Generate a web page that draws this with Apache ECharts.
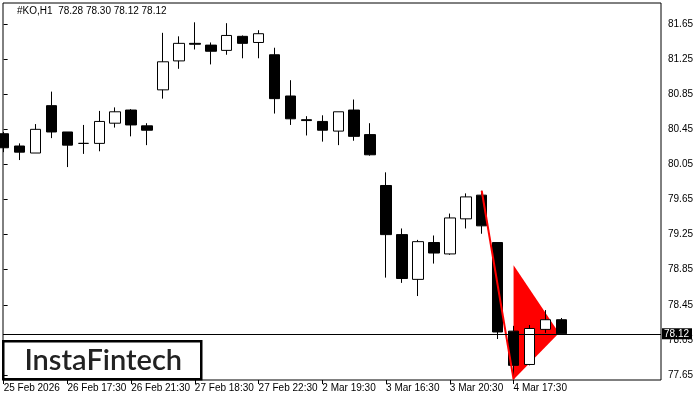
<!DOCTYPE html>
<html><head><meta charset="utf-8">
<script src="https://cdn.jsdelivr.net/npm/echarts@6/dist/echarts.min.js"></script>
<style>html,body{margin:0;padding:0;background:#fff}#c{width:700px;height:400px}</style>
</head><body><div id="c"></div>
<script>
const categories = [
  '25 Feb 20:30','25 Feb 21:30','25 Feb 22:30','26 Feb 16:30','26 Feb 17:30','26 Feb 18:30','26 Feb 19:30','26 Feb 20:30','26 Feb 21:30','26 Feb 22:30',
  '27 Feb 16:30','27 Feb 17:30','27 Feb 18:30','27 Feb 19:30','27 Feb 20:30','27 Feb 21:30','27 Feb 22:30',
  '2 Mar 16:30','2 Mar 17:30','2 Mar 18:30','2 Mar 19:30','2 Mar 20:30','2 Mar 21:30','2 Mar 22:30',
  '3 Mar 16:30','3 Mar 17:30','3 Mar 18:30','3 Mar 19:30','3 Mar 20:30','3 Mar 21:30','3 Mar 22:30',
  '4 Mar 16:30','4 Mar 17:30','4 Mar 18:30','4 Mar 19:30','4 Mar 20:30'
];
const openV  = [80.40,80.26,80.18,80.72,80.42,80.29,80.29,80.52,80.67,80.49, 80.90,81.23,81.43,81.41,81.35,81.51,81.44, 81.30,80.83,80.56,80.54,80.43,80.67,80.39, 79.81,79.25,78.74,79.16,79.03,79.43,79.70, 79.16,78.15,77.77,78.17,78.28];
const closeV = [80.24,80.19,80.45,80.42,80.27,80.29,80.54,80.65,80.50,80.44, 81.22,81.43,81.42,81.34,81.52,81.43,81.54, 80.80,80.57,80.55,80.44,80.65,80.37,80.16, 79.25,78.75,79.17,79.04,79.44,79.68,79.35, 78.14,77.76,78.18,78.28,78.12];
const lowV   = [80.19,80.10,80.18,80.35,80.02,80.17,80.20,80.47,80.37,80.27, 80.80,81.14,81.36,81.19,81.30,81.26,81.26, 80.63,80.50,80.38,80.31,80.27,80.32,80.15, 78.76,78.70,78.55,78.92,79.02,79.32,79.26, 78.06,77.60,77.76,78.13,78.12];
const highV  = [80.42,80.29,80.51,80.88,80.42,80.50,80.66,80.70,80.68,80.52, 81.55,81.51,81.67,81.44,81.66,81.52,81.58, 81.38,81.01,80.60,80.61,80.65,80.79,80.52, 79.96,79.32,79.19,79.24,79.49,79.72,79.75, 79.16,78.21,78.22,78.39,78.30];
const tickIdx = [0,4,8,12,16,20,24,28,32];
const tickLabels = ['25 Feb 2026','26 Feb 17:30','26 Feb 21:30','27 Feb 18:30','27 Feb 22:30','2 Mar 19:30','3 Mar 16:30','3 Mar 20:30','4 Mar 17:30'];
const yTicks = [77.65,78.05,78.45,78.85,79.25,79.65,80.05,80.45,80.85,81.25,81.65];
const lastPrice = 78.12;
const titleText = '#KO,H1  78.28 78.30 78.12 78.12';
const poleX = [30, 32], poleY = [79.75, 77.60];
const pennantX = [32, 32, 34.85], pennantY = [78.90, 77.60, 78.13];

const chart = echarts.init(document.getElementById('c'), null, {renderer:'canvas'});
const FONT = 'Liberation Sans';
chart.setOption({
  animation: false,
  backgroundColor: '#fff',
  title: {text: titleText, left: 17, top: 6, padding: 0,
    textStyle: {fontSize: 10, fontWeight: 'normal', color: '#000', fontFamily: FONT}},
  grid: {left: 3, top: 3, right: 39, bottom: 20, show: true, borderColor: '#000', borderWidth: 1, backgroundColor: '#fff'},
  xAxis: {
    type: 'value', min: -0.04, max: 41.25,
    axisLine: {show: false}, splitLine: {show: false},
    axisTick: {show: true, length: 4, customValues: tickIdx, lineStyle: {color: '#000'}},
    axisLabel: {customValues: tickIdx, align: 'left', margin: 3, fontSize: 10, color: '#000', fontFamily: FONT,
      formatter: v => tickLabels[tickIdx.indexOf(Math.round(v))] || ''}
  },
  yAxis: {
    type: 'value', position: 'right', min: 77.593, max: 81.89, scale: true,
    axisLine: {show: false}, splitLine: {show: false},
    axisTick: {show: true, length: 4, customValues: yTicks, lineStyle: {color: '#000'}},
    axisLabel: {customValues: yTicks, margin: 7, fontSize: 10, color: '#000', fontFamily: FONT,
      formatter: v => v.toFixed(2)}
  },
  series: [
    {
      type: 'custom', z: 1, silent: true,
      data: pennantX.map((x, i) => [x, pennantY[i]]),
      renderItem: (params, api) => {
        if (params.dataIndex !== 0) return null;
        const pts = pennantX.map((x, i) => api.coord([x, pennantY[i]]));
        return {type: 'polygon', shape: {points: pts}, style: {fill: '#ff0000'}};
      }
    },
    {
      type: 'candlestick', z: 2, silent: true, barWidth: 11,
      data: categories.map((c, i) => [i, openV[i], closeV[i], lowV[i], highV[i]]),
      encode: {x: 0, y: [1, 2, 3, 4]},
      itemStyle: {color: '#fff', color0: '#000', borderColor: '#000', borderColor0: '#000', borderWidth: 1},
      markLine: {
        silent: true, symbol: ['none', 'none'], animation: false,
        lineStyle: {color: '#000', width: 1, type: 'solid'},
        label: {show: true, position: 'end', distance: 1, formatter: () => lastPrice.toFixed(2),
          backgroundColor: '#000', color: '#fff', padding: [1, 3, 0, 2], fontSize: 10, fontFamily: FONT},
        emphasis: {disabled: true},
        data: [{yAxis: lastPrice}]
      }
    },
    {
      type: 'custom', z: 3, silent: true,
      data: poleX.map((x, i) => [x, poleY[i]]),
      renderItem: (params, api) => {
        if (params.dataIndex !== 0) return null;
        const a = api.coord([poleX[0], poleY[0]]), b = api.coord([poleX[1], poleY[1]]);
        return {type: 'line', shape: {x1: a[0], y1: a[1], x2: b[0], y2: b[1]}, style: {stroke: '#ff0000', lineWidth: 2}};
      }
    }
  ],
  graphic: [{
    type: 'group', left: 2, top: 340, z: 100,
    children: [
      {type: 'rect', shape: {x: 0, y: 0, width: 198, height: 38}, style: {fill: '#fff', stroke: '#000', lineWidth: 2.5}},
      {type: 'text', x: 100, y: 19, style: {text: 'InstaFintech', font: '600 29px Lato', fill: '#222', align: 'center', verticalAlign: 'middle'}}
    ]
  }]
});
</script></body></html>
